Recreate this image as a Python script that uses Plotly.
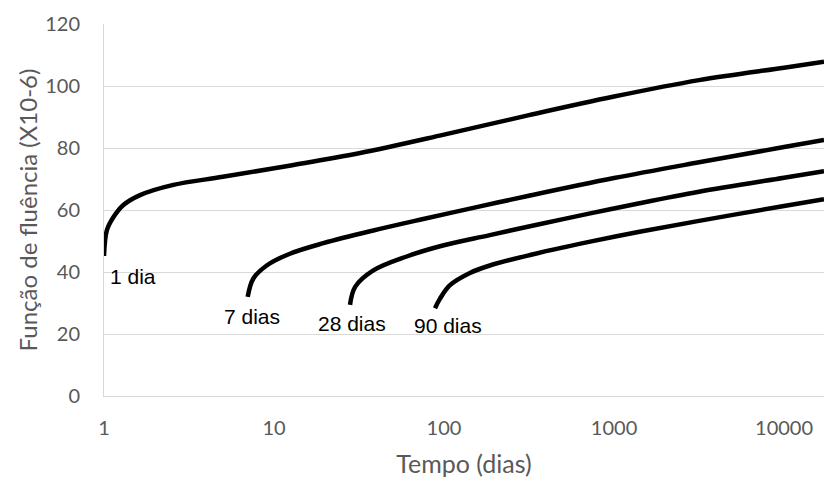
import numpy as np
import plotly.graph_objects as go

# Creep function J(t, t0) (x10^-6) vs time (days), loading ages 1, 7, 28, 90 days
age_labels = ["1 dia", "7 dias", "28 dias", "90 dias"]

t_1 = [1, 1.04, 1.14, 1.3, 1.63, 2.56, 5.0, 12.3, 31.6, 100, 316, 1000, 3162, 10000, 17180]
J_1 = [45.2, 53.5, 57.8, 61.6, 64.8, 68.1, 70.7, 74.3, 78.3, 84.3, 90.6, 96.6, 101.9, 105.9, 107.8]

t_7 = [7, 7.56, 9.06, 12.4, 19.5, 38.4, 75.5, 158, 316, 1000, 3162, 10000, 17180]
J_7 = [32.0, 37.9, 42.1, 45.9, 49.3, 53.4, 57.1, 61.0, 64.6, 70.3, 75.4, 80.3, 82.6]

t_28 = [28, 30, 38.4, 60.3, 94.7, 186, 363, 724, 1413, 3162, 10000, 17180]
J_28 = [29.4, 35.2, 40.5, 45.0, 48.3, 51.9, 55.4, 58.9, 62.2, 65.9, 70.4, 72.5]

t_90 = [88.5, 94.7, 108, 142, 186, 321, 724, 1413, 3162, 10000, 17180]
J_90 = [28.3, 31.4, 35.7, 39.7, 42.1, 45.5, 49.8, 53.0, 56.5, 61.3, 63.5]

label_x = [1.48, 7.4, 28.6, 105]
label_y = [38.4, 25.6, 23.5, 22.6]

x_ticks = [1, 10, 100, 1000, 10000]
y_ticks = [0, 20, 40, 60, 80, 100, 120]
x_max = 17180

series = [(t_1, J_1), (t_7, J_7), (t_28, J_28), (t_90, J_90)]

fig = go.Figure()
for (t, J), name in zip(series, age_labels):
    fig.add_trace(go.Scatter(
        x=t, y=J, mode="lines", name=name,
        line=dict(color="black", width=4.5, shape="spline", smoothing=1.0),
        showlegend=False, hoverinfo="skip",
    ))

for lx, ly, txt in zip(label_x, label_y, age_labels):
    fig.add_annotation(
        x=np.log10(lx), y=ly, text=txt, showarrow=False,
        xanchor="center", yanchor="middle",
        font=dict(family="Liberation Sans, Arial, sans-serif", size=21, color="black"),
    )

grid = "#d9d9d9"
tick_font = dict(family="Lato, Carlito, Calibri, sans-serif", size=20, color="#595959")
x_title_font = dict(family="Lato, Carlito, Calibri, sans-serif", size=25, color="#595959")
y_title_font = dict(family="Lato, Carlito, Calibri, sans-serif", size=24, color="#595959")

fig.update_layout(
    width=824, height=479,
    margin=dict(l=104, r=0, t=24, b=83),
    paper_bgcolor="white", plot_bgcolor="white",
    xaxis=dict(
        type="log", range=[0, np.log10(x_max)],
        tickmode="array", tickvals=x_ticks, ticktext=[str(v) for v in x_ticks],
        showgrid=False, zeroline=False, showline=True, linecolor=grid, linewidth=1,
        ticks="", tickfont=tick_font, ticklabelstandoff=14,
        title=dict(text="Tempo (dias)", font=x_title_font, standoff=17),
    ),
    yaxis=dict(
        range=[0, 120], tickmode="array", tickvals=y_ticks,
        showgrid=True, gridcolor=grid, gridwidth=1, zeroline=False,
        showline=True, linecolor=grid, linewidth=1,
        ticks="", tickfont=tick_font, ticklabelstandoff=19,
        title=dict(text="Função de fluência (X10-6)", font=y_title_font, standoff=0),
    ),
)

fig.write_html("out.html")
